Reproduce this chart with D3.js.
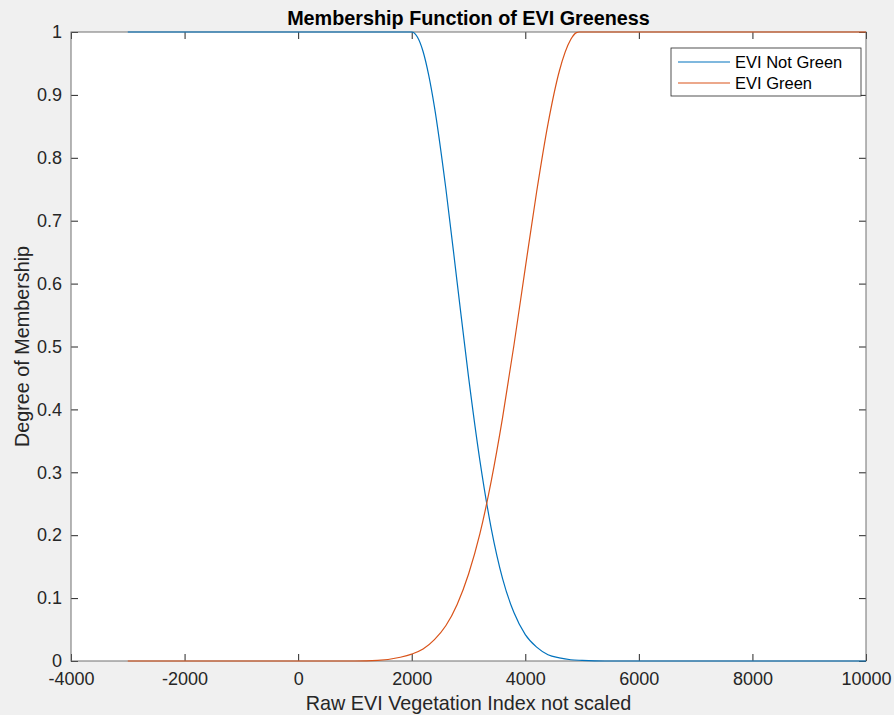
<!DOCTYPE html>
<html>
<head>
<meta charset="utf-8">
<script src="https://cdn.jsdelivr.net/npm/d3@7"></script>
<style>
  body { margin: 0; padding: 0; background: #f0f0f0; }
  svg { display: block; font-family: Helvetica, "Liberation Sans", Arial, sans-serif; }
</style>
</head>
<body>
<svg id="chart" width="894" height="715"></svg>
<script>
// values
const xNotGreen = [-3000, 1800, 2000, 2100, 2200, 2300, 2400, 2600, 2800, 3000, 3200, 3400, 3600, 3800, 4000, 4200, 4400, 4600, 4800, 5000, 5400, 6000, 10000];
const yNotGreen = [1, 1, 1, 0.992, 0.969, 0.931, 0.881, 0.752, 0.602, 0.452, 0.319, 0.211, 0.131, 0.077, 0.042, 0.022, 0.010, 0.005, 0.002, 0.001, 0.000, 0, 0];

const xGreen = [-3000, 600, 1000, 1400, 1800, 2000, 2200, 2400, 2600, 2800, 3000, 3200, 3400, 3600, 3800, 4000, 4200, 4400, 4600, 4800, 4900, 4950, 10000];
const yGreen = [0, 0, 0.000, 0.001, 0.006, 0.011, 0.019, 0.034, 0.056, 0.090, 0.138, 0.202, 0.286, 0.387, 0.502, 0.625, 0.746, 0.854, 0.938, 0.988, 0.999, 1, 1];

const xTicks = [-4000, -2000, 0, 2000, 4000, 6000, 8000, 10000];
const yTicks = [0, 0.1, 0.2, 0.3, 0.4, 0.5, 0.6, 0.7, 0.8, 0.9, 1];

const seriesNames = ["EVI Not Green", "EVI Green"];
const seriesColors = ["#0072BD", "#D95319"];

document.addEventListener("DOMContentLoaded", function() {

  const svg = d3.select("#chart");
  const left = 71, right = 866, top = 32, bottom = 661;

  const x = d3.scaleLinear().domain([-4000, 10000]).range([left, right]);
  const y = d3.scaleLinear().domain([0, 1]).range([bottom, top]);

  // axes background
  svg.append("rect")
    .attr("x", left).attr("y", top)
    .attr("width", right - left).attr("height", bottom - top)
    .attr("fill", "white");

  // ticks (inward, MATLAB style) on all four sides
  const styleAxis = g => {
    g.select(".domain").remove();
    g.selectAll(".tick line").attr("stroke", "#262626").attr("stroke-width", 1);
    g.selectAll(".tick text").attr("fill", "#262626").attr("font-size", "18px");
    g.attr("font-family", null);
  };

  svg.append("g")
    .attr("transform", `translate(0,${bottom})`)
    .call(d3.axisBottom(x).tickValues(xTicks).tickSize(-7).tickPadding(11).tickFormat(d => String(d)))
    .call(styleAxis);

  svg.append("g")
    .attr("transform", `translate(0,${top})`)
    .call(d3.axisTop(x).tickValues(xTicks).tickSize(-7).tickFormat(""))
    .call(styleAxis);

  svg.append("g")
    .attr("transform", `translate(${left},0)`)
    .call(d3.axisLeft(y).tickValues(yTicks).tickSize(-7).tickPadding(9).tickFormat(d => String(d)))
    .call(styleAxis);

  svg.append("g")
    .attr("transform", `translate(${right},0)`)
    .call(d3.axisRight(y).tickValues(yTicks).tickSize(-7).tickFormat(""))
    .call(styleAxis);

  // box
  svg.append("rect")
    .attr("x", left).attr("y", top)
    .attr("width", right - left).attr("height", bottom - top)
    .attr("fill", "none")
    .attr("stroke", "#707070")
    .attr("stroke-width", 1);

  // curves
  const line = d3.line()
    .x(d => x(d[0]))
    .y(d => y(d[1]))
    .curve(d3.curveMonotoneX);

  const series = [
    d3.zip(xNotGreen, yNotGreen),
    d3.zip(xGreen, yGreen)
  ];

  series.forEach((pts, i) => {
    svg.append("path")
      .datum(pts)
      .attr("fill", "none")
      .attr("stroke", seriesColors[i])
      .attr("stroke-width", 1.2)
      .attr("d", line);
  });

  // title + labels
  svg.append("text")
    .attr("x", (left + right) / 2)
    .attr("y", 25)
    .attr("text-anchor", "middle")
    .attr("font-size", "19.8px")
    .attr("font-weight", "bold")
    .attr("fill", "#000")
    .text("Membership Function of EVI Greeness");

  svg.append("text")
    .attr("x", (left + right) / 2)
    .attr("y", 710)
    .attr("text-anchor", "middle")
    .attr("font-size", "19.8px")
    .attr("fill", "#262626")
    .text("Raw EVI Vegetation Index not scaled");

  svg.append("text")
    .attr("transform", `translate(29,${(top + bottom) / 2}) rotate(-90)`)
    .attr("text-anchor", "middle")
    .attr("font-size", "19.8px")
    .attr("fill", "#262626")
    .text("Degree of Membership");

  // legend
  const legend = svg.append("g");
  legend.append("rect")
    .attr("x", 671).attr("y", 48)
    .attr("width", 190).attr("height", 48)
    .attr("fill", "white")
    .attr("stroke", "#262626")
    .attr("stroke-width", 0.8);

  seriesNames.forEach((name, i) => {
    const ly = 62 + i * 21;
    legend.append("line")
      .attr("x1", 678).attr("x2", 730)
      .attr("y1", ly).attr("y2", ly)
      .attr("stroke", seriesColors[i])
      .attr("stroke-width", 1.2);
    legend.append("text")
      .attr("x", 735)
      .attr("y", ly + 5.5)
      .attr("font-size", "16.5px")
      .attr("fill", "#000")
      .text(name);
  });

});
</script>
</body>
</html>
